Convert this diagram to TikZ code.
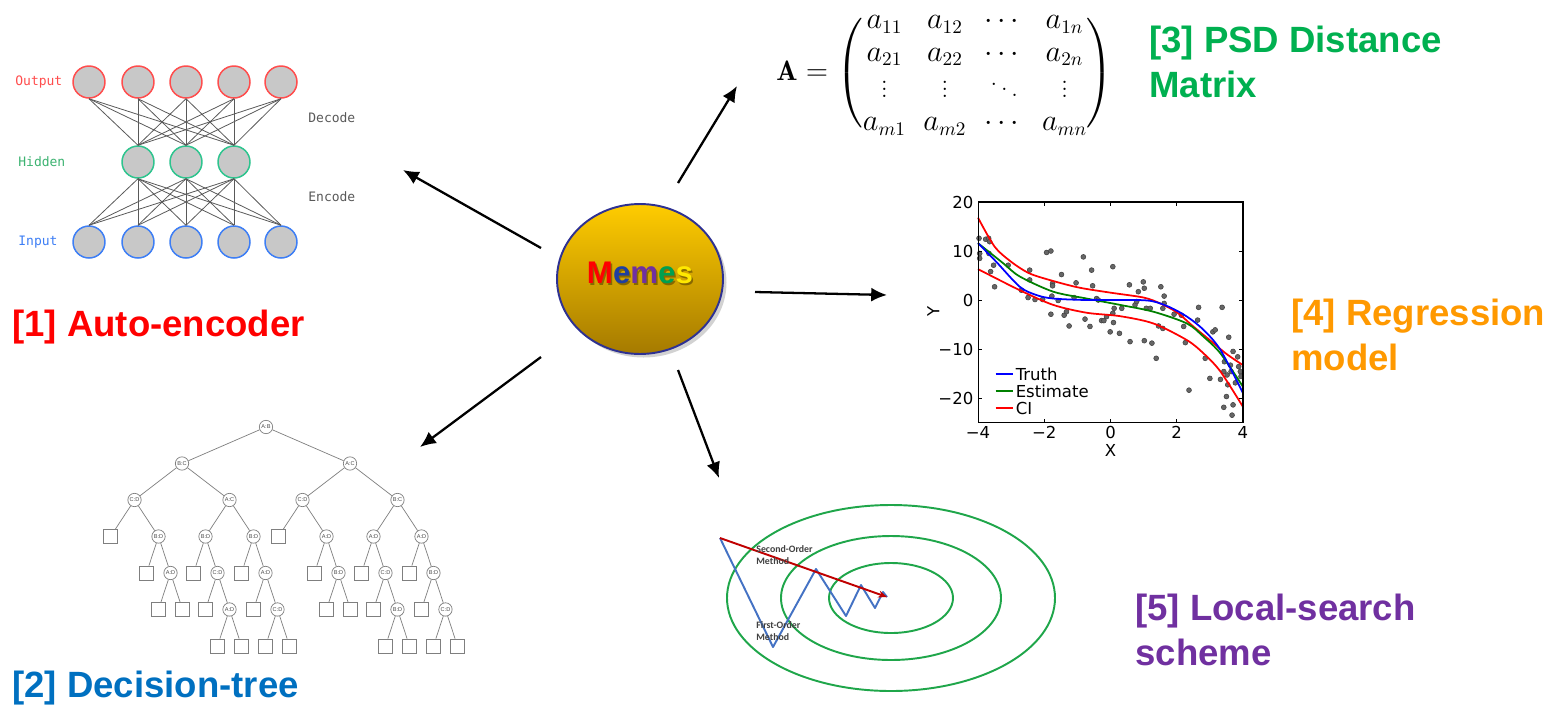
\documentclass[tikz,border=0pt]{standalone}
\usepackage{amsmath}
\usepackage{fontspec}
\usetikzlibrary{arrows.meta,shapes.geometric,shadows}

\newfontfamily\lblfont{Liberation Sans}
\newfontfamily\plotfont{DejaVu Sans}
\newfontfamily\codefont{DejaVu Sans Mono}
\newfontfamily\notefont{Carlito}

\definecolor{lblred}{HTML}{FF0000}
\definecolor{lblblue}{HTML}{0070C0}
\definecolor{lblgreen}{HTML}{00B050}
\definecolor{lblorange}{HTML}{FF9900}
\definecolor{lblpurple}{HTML}{7030A0}
\definecolor{outred}{HTML}{FF4D4D}
\definecolor{hidgreen}{HTML}{2EC48E}
\definecolor{hidtext}{HTML}{3CB371}
\definecolor{inblue}{HTML}{3D7EF5}
\definecolor{neurongray}{HTML}{C8C8C8}
\definecolor{treegray}{HTML}{7F7F7F}
\definecolor{contourgreen}{HTML}{1FA64A}
\definecolor{fogblue}{HTML}{4472C4}
\definecolor{sodark}{HTML}{C00000}
\definecolor{memesnavy}{HTML}{2E3192}
\definecolor{memestop}{HTML}{FFCC00}
\definecolor{memesbot}{HTML}{A57A00}
\definecolor{mmblue}{HTML}{1F3FA0}
\definecolor{mmgreen}{HTML}{00A050}
\definecolor{mmyellow}{HTML}{FFE800}

\newcommand{\memesword}{\textcolor{lblred}{M}\textcolor{mmblue}{e}\textcolor{lblpurple}{m}\textcolor{mmgreen}{e}\textcolor{mmyellow}{s}}

\tikzset{
  biglbl/.style={font=\lblfont\bfseries\fontsize{20.8}{25.3}\selectfont,inner sep=0pt,align=left},
  bigarrow/.style={line width=1.3pt,-{Latex[length=9pt,width=8pt]}},
  memes/.style={ellipse,minimum width=3.32cm,minimum height=3cm,draw=memesnavy,line width=1.1pt,
    top color=memestop,bottom color=memesbot,drop shadow={shadow xshift=2pt,shadow yshift=-2pt,opacity=.35}},
  memestxt/.style={font=\lblfont\bfseries\fontsize{17.8}{20}\selectfont,inner sep=0pt},
  neuron/.style={circle,minimum size=0.64cm,inner sep=0pt,fill=neurongray,line width=0.85pt},
  syn/.style={draw=black!65,line width=0.45pt},
  aelbl/.style={font=\codefont\fontsize{7.4}{9}\selectfont,inner sep=0pt,anchor=west},
  dn/.style={circle,draw=treegray,minimum size=7.6pt,inner sep=0pt,fill=white,
    font=\lblfont\fontsize{3.2}{3.5}\selectfont,text=black!70},
  lf/.style={rectangle,draw=treegray,minimum size=8pt,inner sep=0pt},
  tick/.style={font=\plotfont\fontsize{9.4}{11}\selectfont,inner sep=1pt,text=black},
  contour/.style={draw=contourgreen,line width=1.1pt},
  note/.style={font=\notefont\bfseries\fontsize{5.6}{6.8}\selectfont,text=black!75,align=left,inner sep=0pt}
}

\begin{document}
\begin{tikzpicture}[x=0.02cm,y=-0.02cm,>=Latex]
  \fill[white] (0,0) rectangle (1562,704);
  \useasboundingbox (0,0) rectangle (1562,704);

  % centre
  \node[memes] (memes) at (640,279) {};
  \node[memestxt,text=black,opacity=.35] (memes-shadow) at (641.5,274.5) {Memes};
  \node[memestxt] (memes-word) at (640,273) {\memesword};

  \coordinate (a1s) at (541,248); \coordinate (a1e) at (403,170);
  \coordinate (a2s) at (678,183); \coordinate (a2e) at (737,86);
  \coordinate (a3s) at (755,292); \coordinate (a3e) at (887,295);
  \coordinate (a4s) at (541,357); \coordinate (a4e) at (420,447);
  \coordinate (a5s) at (678,370); \coordinate (a5e) at (719,478);
  \foreach \k in {1,...,5}
    \draw[bigarrow] (a\k s) -- (a\k e);

  % [1] auto-encoder
  \foreach \i/\x in {1/89,2/138,3/186,4/234,5/281} {
    \node[neuron,draw=outred] (o\i) at (\x,82) {};
    \node[neuron,draw=inblue] (in\i) at (\x,242) {};
  }
  \foreach \j/\x in {1/138,2/186,3/234}
    \node[neuron,draw=hidgreen] (h\j) at (\x,162) {};
  \foreach \i in {1,...,5}
    \foreach \j in {1,2,3} {
      \draw[syn] (o\i.south) -- (h\j.north);
      \draw[syn] (h\j.south) -- (in\i.north);
    }
  \node[aelbl,text=outred] (l-out) at (15,82) {Output};
  \node[aelbl,text=hidtext] (l-hid) at (18,162) {Hidden};
  \node[aelbl,text=inblue] (l-in) at (18,242) {Input};
  \node[aelbl,text=black!65] (l-dec) at (308,118) {Decode};
  \node[aelbl,text=black!65] (l-enc) at (308,197) {Encode};
  \node[biglbl,text=lblred,anchor=base west] (lbl1) at (12,336) {[1] Auto-encoder};

  % [2] decision tree
  \begin{scope}[level distance=0.73cm,
      edge from parent/.style={draw=treegray,line width=0.4pt},
      level 1/.style={sibling distance=3.36cm,xshift=-0.24cm},
      level 2/.style={sibling distance=1.9cm},
      level 3/.style={sibling distance=0.96cm},
      level 4/.style={sibling distance=0.48cm},
      level 5/.style={sibling distance=0.48cm},
      level 6/.style={sibling distance=0.48cm}]
  \node[dn] (dt) at (266,427) {A:B}
    child {node[dn] {B:C}
      child {node[dn] {C:D}
        child {node[lf] {}}
        child {node[dn] {B:D}
          child {node[lf] {}}
          child {node[dn] {A:D}
            child {node[lf] {}}
            child {node[lf] {}}}}}
      child {node[dn] {A:C}
        child {node[dn] {B:D}
          child {node[lf] {}}
          child {node[dn] {C:D}
            child {node[lf] {}}
            child {node[dn] {A:D}
              child {node[lf] {}}
              child {node[lf] {}}}}}
        child {node[dn] {B:D}
          child {node[lf] {}}
          child {node[dn] {A:D}
            child {node[lf] {}}
            child {node[dn] {C:D}
              child {node[lf] {}}
              child {node[lf] {}}}}}}}
    child {node[dn] {A:C}
      child {node[dn] {C:D}
        child {node[lf] {}}
        child {node[dn] {A:D}
          child {node[lf] {}}
          child {node[dn] {B:D}
            child {node[lf] {}}
            child {node[lf] {}}}}}
      child {node[dn] {B:C}
        child {node[dn] {A:D}
          child {node[lf] {}}
          child {node[dn] {C:D}
            child {node[lf] {}}
            child {node[dn] {B:D}
              child {node[lf] {}}
              child {node[lf] {}}}}}
        child {node[dn] {A:D}
          child {node[lf] {}}
          child {node[dn] {B:D}
            child {node[lf] {}}
            child {node[dn] {C:D}
              child {node[lf] {}}
              child {node[lf] {}}}}}}};
  \end{scope}
  \node[biglbl,text=lblblue,anchor=base west] (lbl2) at (12,697) {[2] Decision-tree};

  % [3] distance matrix
  \node[anchor=west,inner sep=0pt] (psd) at (776,73) {\fontsize{16}{18.6}\selectfont
    \arraycolsep=5pt\delimitershortfall=16pt\delimiterfactor=750
    $\mathbf{A}=\begin{pmatrix}
      a_{11} & a_{12} & \cdots & a_{1n}\\
      a_{21} & a_{22} & \cdots & a_{2n}\\
      \vdots & \vdots & \ddots & \vdots\\
      a_{m1} & a_{m2} & \cdots & a_{mn}
    \end{pmatrix}$};
  \node[biglbl,text=lblgreen,anchor=north west] (lbl3) at (1149,26) {[3] PSD Distance\\Matrix};

  % [4] regression
  \begin{scope}[shift={(1110.5,300)},x=0.6625cm,y=0.098cm]
    \foreach \p in {(-3.97,12.6),(-3.95,9.5),(-3.95,8.5),(-3.77,12.4),(-3.68,12.6),(-3.65,11.9),
        (-3.67,9.5),(-3.62,5.8),(-3.53,7.1),(-3.5,2.7),(-3.09,7.1),(-2.69,2.0),(-2.44,6.1),
        (-2.44,4.1),(-2.49,0.5),(-2.28,0.1),(-2.05,0.1),(-1.93,9.7),(-1.8,10),(-1.75,3.4),
        (-1.75,2.9),(-1.77,0.8),(-1.8,-2.9),(-1.58,-0.1),(-1.48,5.2),(-1.4,-3.1),(-1.33,-2.4),
        (-1.25,-5.3),(-1.1,0.5),(-1.04,3.5),(-0.82,8.8),(-0.77,-3.9),(-0.62,-5.4),(-0.57,6.1),
        (-0.54,2.9),(-0.42,0.3),(-0.37,0),(-0.27,-4.2),(-0.2,-4.2),(-0.12,-3.4),(-0.01,-6.5),
        (0.07,6.8),(0.07,-2.7),(0.09,-4.6),(0.11,-1.7),(0.27,-6.8),(0.34,-1.7),(0.57,3.1),
        (0.59,-8.5),(0.74,-1.0),(0.79,-0.3),(0.84,1.7),(0.99,3.7),(1.02,2.4),(1.02,-8.3),
        (1.08,-1.7),(1.2,-1.7),(1.25,-8.8),(1.38,-11.9),(1.45,-5.3),(1.52,2.7),(1.58,-5.8),
        (1.58,-1.7),(1.62,0.8),(1.62,-0.7),(1.92,-2.9),(2.14,-3.1),(2.21,-5.4),(2.26,-8.7),
        (2.37,-18.4),(2.63,-4.1),(2.66,-1.5),(2.86,-11.9),(3.0,-16),(3.09,-6.5),(3.16,-6.1),
        (3.32,-16.2),(3.37,-1.5),(3.42,-14.6),(3.44,-12.6),(3.42,-21.9),(3.5,-19.7),(3.52,-15.3),
        (3.54,-17.3),(3.57,-7.6),(3.62,-13.3),(3.64,-14.6),(3.67,-23.5),(3.7,-10.5),(3.7,-21.4),
        (3.77,-16.9),(3.84,-11.6),(3.87,-13.6),(3.92,-14.6),(3.94,-15.6)}
      \filldraw[fill=black!60,draw=black!75,line width=0.3pt] \p circle[radius=1.4pt];
    \draw[red,line width=1pt] plot[smooth] coordinates {(-4,16.8) (-3.5,10.9) (-3,7.8) (-2.5,5.6)
      (-2,4.4) (-1,2.6) (0,1.5) (1,0.5) (1.5,-0.7) (2,-2.5) (2.5,-5.4) (3,-8.2) (3.5,-11) (4,-13.3)};
    \draw[red,line width=1pt] plot[smooth] coordinates {(-4,6.3) (-2.74,2.0) (-1.73,-1.0) (-0.72,-2.6)
      (0.29,-3.3) (1.3,-4.8) (2.31,-8.2) (2.81,-10.9) (3.32,-14.6) (4,-21.8)};
    \draw[green!50!black,line width=1pt] plot[smooth] coordinates {(-4,11.6) (-3.24,7.5) (-2.74,4.8)
      (-1.73,1.7) (-0.72,0.3) (0.29,-1.0) (1.3,-2.4) (2.31,-4.8) (2.81,-7.5) (3.32,-10.9) (4,-17.7)};
    \draw[blue,line width=1pt] plot[smooth] coordinates {(-4,11.6) (-3.45,7.8) (-2.74,2.7) (-2.23,1.0)
      (-1.73,0.3) (-0.72,0) (0.79,0) (1.3,-0.3) (1.8,-1.5) (2.31,-3.4) (2.81,-6.1) (3.32,-10.2) (4,-19)};
    \draw[line width=0.6pt] (-4,-25) rectangle (4,20);
    \foreach \v/\t in {-4/−4,-2/−2,0/0,2/2,4/4} {
      \draw[line width=0.5pt] (\v,-25) -- ++(0,0.8) (\v,20) -- ++(0,-0.8);
      \node[tick,anchor=north] at (\v,-25.4) {\t};
    }
    \foreach \v/\t in {20/20,10/10,0/0,-10/−10,-20/−20} {
      \draw[line width=0.5pt] (-4,\v) -- ++(0.12,0) (4,\v) -- ++(-0.12,0);
      \node[tick,anchor=east] at (-4.08,\v) {\t};
    }
    \node[tick] (xlab) at (0,-30.8) {X};
    \node[tick,rotate=90] (ylab) at (-5.35,-2.4) {Y};
    \draw[blue,line width=1pt] (-3.47,-15.1) -- (-2.94,-15.1) node[tick,right] {Truth};
    \draw[green!50!black,line width=1pt] (-3.47,-18.6) -- (-2.94,-18.6) node[tick,right] {Estimate};
    \draw[red,line width=1pt] (-3.47,-22.1) -- (-2.94,-22.1) node[tick,right] {CI};
  \end{scope}
  \node[biglbl,text=lblorange,anchor=north west] (lbl4) at (1291,299) {[4] Regression\\model};

  % [5] local search
  \foreach \rx/\ry in {164/93,110/62,62/35}
    \draw[contour] (891,598) ellipse [x radius=\rx,y radius=\ry];
  \coordinate (ls-start) at (720,538);
  \coordinate (ls-min) at (887,597);
  \draw[fogblue,line width=1.1pt,line join=round] (ls-start) -- (773,647) -- (816,569) -- (846,616)
    -- (861,585) -- (875,608) -- (883,592) -- (ls-min);
  \draw[sodark,line width=1.1pt,-{Stealth[length=5pt,width=4pt]}] (ls-start) -- (ls-min);
  \node[note,anchor=north west] (so-txt) at (756,545) {Second-Order\\Method};
  \node[note,anchor=north west] (fo-txt) at (756,621) {First-Order\\Method};
  \node[biglbl,text=lblpurple,anchor=north west] (lbl5) at (1135,594) {[5] Local-search\\scheme};
\end{tikzpicture}
\end{document}
